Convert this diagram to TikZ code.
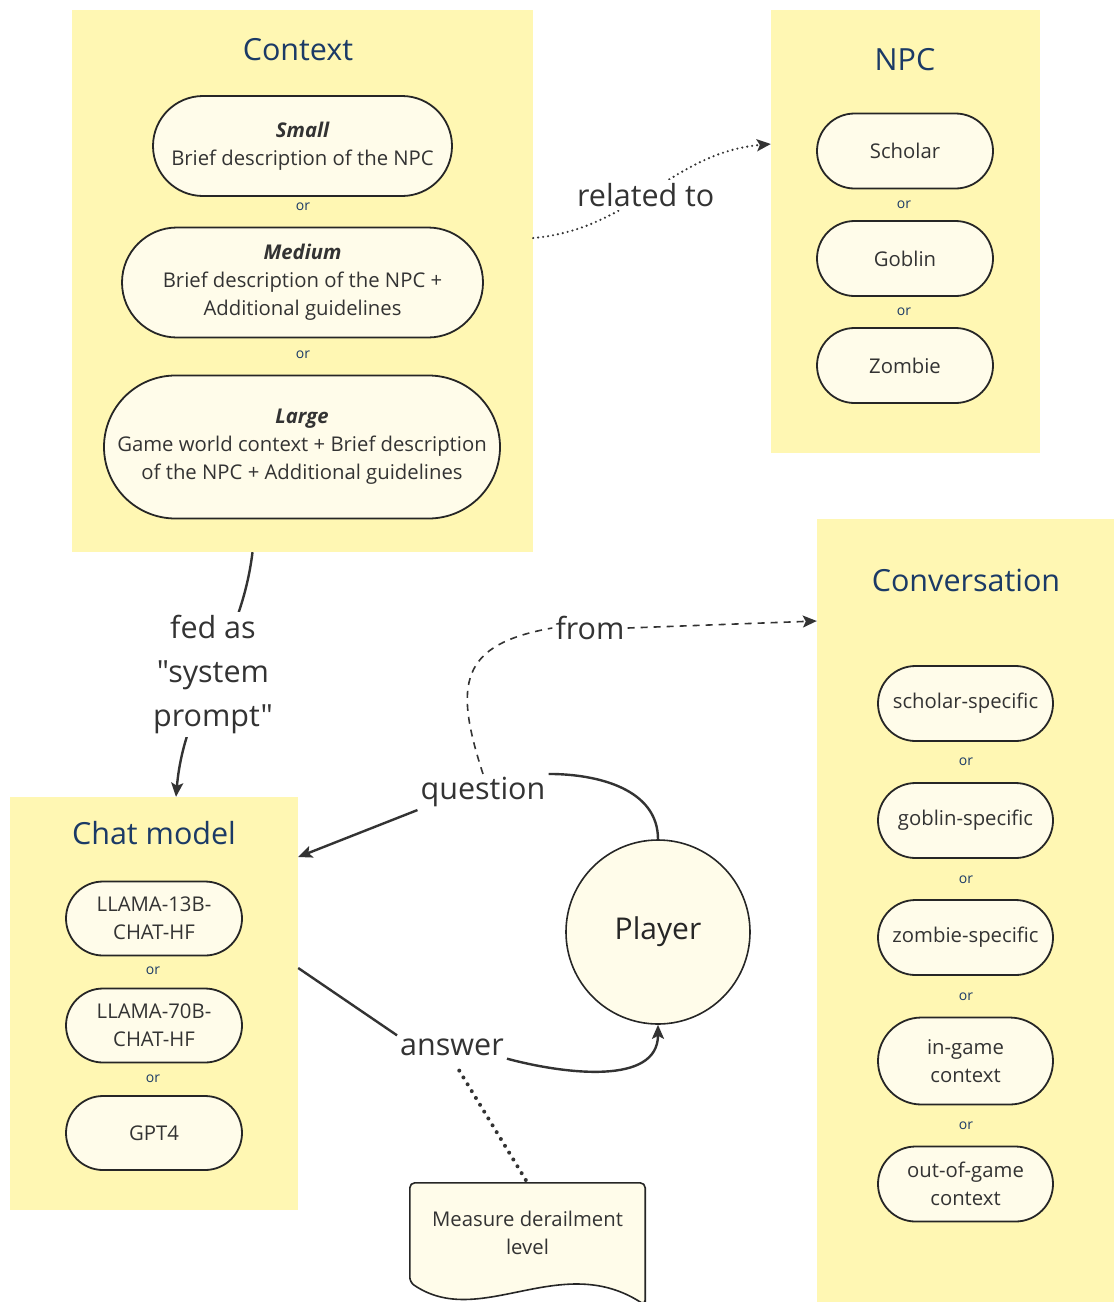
\documentclass[tikz,border=0pt]{standalone}
\usepackage{fontspec}
\setmainfont{Open Sans}
\newfontfamily\labelfont{Open Sans}
\usepackage{tikz}
\usetikzlibrary{shapes.misc, arrows.meta}
\definecolor{panelyellow}{HTML}{FFF7B3}
\definecolor{pillfill}{HTML}{FFFCEA}
\definecolor{titleblue}{HTML}{1B3A66}
\definecolor{inkgray}{HTML}{333333}

\begin{document}
\begin{tikzpicture}[x=1pt, y=1pt,
    panel/.style={fill=panelyellow, inner sep=0pt},
    heading/.style={text=titleblue, font=\fontsize{30.5}{36}\selectfont},
    pill/.style={rounded rectangle, draw=black!85, line width=1.8pt, fill=pillfill, text=inkgray, align=center, inner sep=0pt, font=\fontsize{20.3}{28}\selectfont},
    ortext/.style={text=titleblue, font=\fontsize{14}{16}\selectfont},
    edgelabel/.style={text=inkgray, fill=white, align=center, inner sep=3pt, font=\labelfont\fontsize{30.5}{44}\selectfont},
    link/.style={draw=black!80, line width=2.4pt},
    tip/.style={-{Stealth[length=14pt, width=12pt, inset=3pt]}},
    dashedlink/.style={draw=black!80, line width=1.6pt, dash pattern=on 7pt off 6pt},
    relatedlink/.style={draw=black!80, line width=2.4pt, line cap=round, dash pattern=on 0pt off 5pt},
    dotlink/.style={draw=black!80, line width=4pt, line cap=round, dash pattern=on 0pt off 8pt}]
  \useasboundingbox (0,0) rectangle (1114,-1302);
  \clip (0,0) rectangle (1114,-1302);
  \fill[white] (0,0) rectangle (1114,-1302);

  \node[panel, minimum width=461pt, minimum height=542pt] (context) at (302.5,-281) {};
  \node[panel, minimum width=269pt, minimum height=443pt] (npc) at (905.5,-231.5) {};
  \node[panel, minimum width=310pt, minimum height=800pt] (conv) at (972,-919) {};
  \node[panel, minimum width=288pt, minimum height=413pt] (chat) at (154,-1003.5) {};

  \node[heading] (contexttitle) at (298,-50) {Context};
  \node[heading] (npctitle) at (905,-60) {NPC};
  \node[heading] (convtitle) at (966,-580) {Conversation};
  \node[heading] (chattitle) at (154,-833) {Chat model};

  \node[pill, minimum width=299pt, minimum height=100pt] (small) at (302.5,-146) {{\bfseries\itshape Small}\\Brief description of the NPC};
  \node[ortext] (or1) at (303,-207) {or};
  \node[pill, minimum width=361pt, minimum height=110pt] (medium) at (302.5,-282.5) {{\bfseries\itshape Medium}\\Brief description of the NPC +\\Additional guidelines};
  \node[ortext] (or2) at (303,-355) {or};
  \node[pill, minimum width=396pt, minimum height=143pt] (large) at (302,-447) {{\bfseries\itshape Large}\\Game world context + Brief description\\of the NPC + Additional guidelines};

  \node[pill, minimum width=176pt, minimum height=75pt] (scholar) at (905,-151) {Scholar};
  \node[ortext] (or3) at (904,-205) {or};
  \node[pill, minimum width=176pt, minimum height=75pt] (goblin) at (905,-258.5) {Goblin};
  \node[ortext] (or4) at (904,-312) {or};
  \node[pill, minimum width=176pt, minimum height=75pt] (zombie) at (905,-365.5) {Zombie};

  \node[pill, minimum width=175pt, minimum height=75pt] (scholarconv) at (965.5,-703.5) {scholar-specific};
  \node[ortext] (or5) at (966,-762) {or};
  \node[pill, minimum width=175pt, minimum height=75pt] (goblinconv) at (965.5,-820.5) {goblin-specific};
  \node[ortext] (or6) at (966,-880) {or};
  \node[pill, minimum width=175pt, minimum height=75pt] (zombieconv) at (965.5,-937.5) {zombie-specific};
  \node[ortext] (or7) at (966,-997) {or};
  \node[pill, minimum width=175pt, minimum height=87pt] (ingame) at (965.5,-1061) {in-game\\context};
  \node[ortext] (or8) at (966,-1126) {or};
  \node[pill, minimum width=175pt, minimum height=75pt] (outgame) at (965.5,-1184) {out-of-game\\context};

  \node[pill, minimum width=176pt, minimum height=74pt] (llama13) at (154,-918.5) {LLAMA-13B-\\CHAT-HF};
  \node[ortext] (or9) at (153,-971) {or};
  \node[pill, minimum width=176pt, minimum height=74pt] (llama70) at (154,-1025.5) {LLAMA-70B-\\CHAT-HF};
  \node[ortext] (or10) at (153,-1079) {or};
  \node[pill, minimum width=176pt, minimum height=74pt] (gpt) at (154,-1133) {GPT4};

  \node[circle, draw=black!85, line width=1.6pt, fill=pillfill, minimum size=184pt, text=black!85, font=\fontsize{30}{36}\selectfont] (player) at (658,-932) {Player};

  \node[text=inkgray, align=center, minimum width=235pt, minimum height=99pt] (measure) at (527.5,-1232.5) {};
  \draw[draw=black!85, line width=1.6pt, fill=pillfill, rounded corners=5pt] ([yshift=-23pt]measure.south east) -- (measure.north east) -- (measure.north west) -- (measure.south west) .. controls +(70,-48) and +(-85,55) .. ([yshift=-23pt]measure.south east) -- cycle;
  \node[text=inkgray, align=center, font=\fontsize{20.3}{28}\selectfont] (measuretext) at (527.5,-1233) {Measure derailment\\level};

  \draw[relatedlink, tip] ([yshift=43pt]context.east) to[out=5, in=185] node[edgelabel, pos=0.47] (related) {related to} ([yshift=87.5pt]npc.west);
  \draw[link, tip] ([xshift=-50pt]context.south) to[out=-97, in=85] node[edgelabel] (fed) {fed as\\"system\\prompt"} ([xshift=22pt]chat.north);

  \node[edgelabel] (question) at (483,-792) {question};
  \node[edgelabel] (from) at (590,-628) {from};
  \node[edgelabel] (answer) at (452,-1047) {answer};

  \draw[link] (player.north) to[out=90, in=0] (question.north east);
  \draw[link, tip] (question.south west) -- ([yshift=146.5pt]chat.east);
  \draw[dashedlink] (question.north) to[out=108, in=190, looseness=1.5] (from.west);
  \draw[dashedlink, tip] (from.east) -- ([yshift=298pt]conv.west);
  \draw[link] ([yshift=35.5pt]chat.east) -- (answer.north west);
  \draw[link, tip] (answer.south east) to[out=-15, in=-90] (player.south);
  \draw[dotlink, shorten <=14pt] (answer.south) -- (measure.north);
\end{tikzpicture}
\end{document}
